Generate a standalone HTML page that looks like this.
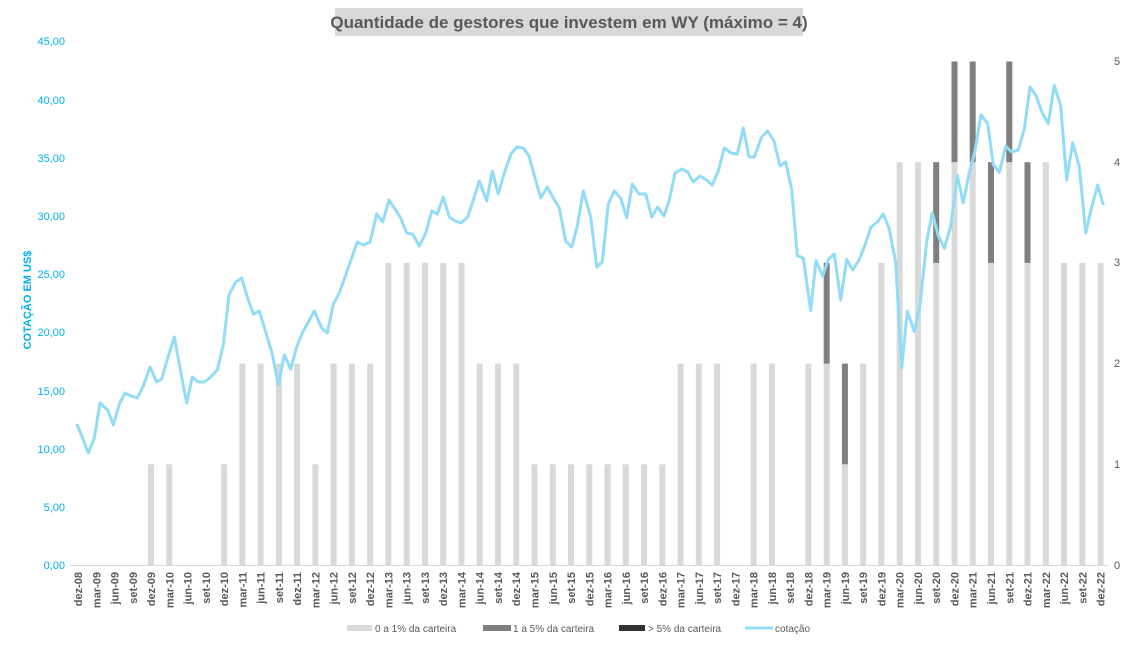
<!DOCTYPE html>
<html><head><meta charset="utf-8"><style>
body{margin:0;background:#fff;width:1138px;height:643px;overflow:hidden}
svg{font-family:"Liberation Sans",sans-serif}
</style></head><body>
<svg width="1138" height="643" viewBox="0 0 1138 643">
<rect x="335" y="8" width="468" height="28" fill="#d9d9d9"/>
<text x="569" y="28" text-anchor="middle" font-size="17" font-weight="bold" fill="#595959">Quantidade de gestores que investem em WY (máximo = 4)</text>
<g font-size="11" fill="#00b0f0" text-anchor="end">
<text x="65" y="569">0,00</text><text x="65" y="511">5,00</text><text x="65" y="453">10,00</text><text x="65" y="395">15,00</text><text x="65" y="336">20,00</text><text x="65" y="278">25,00</text><text x="65" y="220">30,00</text><text x="65" y="162">35,00</text><text x="65" y="104">40,00</text><text x="65" y="45">45,00</text>
</g>
<text transform="translate(31,300) rotate(-90)" text-anchor="middle" font-size="11" font-weight="bold" fill="#00b0f0">COTAÇÃO EM US$</text>
<g font-size="11" fill="#595959">
<text x="1114" y="569">0</text><text x="1114" y="468">1</text><text x="1114" y="367">2</text><text x="1114" y="266">3</text><text x="1114" y="166">4</text><text x="1114" y="65">5</text>
</g>
<g fill="#d9d9d9">
<rect x="148" y="464.3" width="6" height="100.7"/><rect x="166.3" y="464.3" width="6" height="100.7"/><rect x="221.1" y="464.3" width="6" height="100.7"/>
<rect x="239.3" y="363.6" width="6" height="201.4"/><rect x="257.6" y="363.6" width="6" height="201.4"/><rect x="275.9" y="363.6" width="6" height="201.4"/><rect x="294.1" y="363.6" width="6" height="201.4"/>
<rect x="312.4" y="464.3" width="6" height="100.7"/>
<rect x="330.6" y="363.6" width="6" height="201.4"/><rect x="348.9" y="363.6" width="6" height="201.4"/><rect x="367.2" y="363.6" width="6" height="201.4"/>
<rect x="385.4" y="262.9" width="6" height="302.1"/><rect x="403.7" y="262.9" width="6" height="302.1"/><rect x="421.9" y="262.9" width="6" height="302.1"/><rect x="440.2" y="262.9" width="6" height="302.1"/><rect x="458.5" y="262.9" width="6" height="302.1"/>
<rect x="476.7" y="363.6" width="6" height="201.4"/><rect x="495" y="363.6" width="6" height="201.4"/><rect x="513.2" y="363.6" width="6" height="201.4"/>
<rect x="531.5" y="464.3" width="6" height="100.7"/><rect x="549.8" y="464.3" width="6" height="100.7"/><rect x="568" y="464.3" width="6" height="100.7"/><rect x="586.3" y="464.3" width="6" height="100.7"/><rect x="604.5" y="464.3" width="6" height="100.7"/><rect x="622.8" y="464.3" width="6" height="100.7"/><rect x="641.1" y="464.3" width="6" height="100.7"/><rect x="659.3" y="464.3" width="6" height="100.7"/>
<rect x="677.6" y="363.6" width="6" height="201.4"/><rect x="695.8" y="363.6" width="6" height="201.4"/><rect x="714.1" y="363.6" width="6" height="201.4"/>
<rect x="750.6" y="363.6" width="6" height="201.4"/><rect x="768.9" y="363.6" width="6" height="201.4"/>
<rect x="805.4" y="363.6" width="6" height="201.4"/><rect x="823.7" y="363.6" width="6" height="201.4"/>
<rect x="841.9" y="464.3" width="6" height="100.7"/>
<rect x="860.2" y="363.6" width="6" height="201.4"/>
<rect x="878.4" y="262.9" width="6" height="302.1"/>
<rect x="896.7" y="162.2" width="6" height="402.8"/><rect x="915" y="162.2" width="6" height="402.8"/>
<rect x="933.2" y="262.9" width="6" height="302.1"/>
<rect x="951.5" y="162.2" width="6" height="402.8"/><rect x="969.7" y="162.2" width="6" height="402.8"/>
<rect x="988" y="262.9" width="6" height="302.1"/>
<rect x="1006.3" y="162.2" width="6" height="402.8"/>
<rect x="1024.5" y="262.9" width="6" height="302.1"/>
<rect x="1042.8" y="162.2" width="6" height="402.8"/>
<rect x="1061" y="262.9" width="6" height="302.1"/><rect x="1079.3" y="262.9" width="6" height="302.1"/><rect x="1097.6" y="262.9" width="6" height="302.1"/>
</g>
<g fill="#7f7f7f">
<rect x="823.7" y="262.9" width="6" height="100.7"/>
<rect x="841.9" y="363.6" width="6" height="100.7"/>
<rect x="933.2" y="162.2" width="6" height="100.7"/>
<rect x="951.5" y="61.5" width="6" height="100.7"/><rect x="969.7" y="61.5" width="6" height="100.7"/>
<rect x="988" y="162.2" width="6" height="100.7"/>
<rect x="1006.3" y="61.5" width="6" height="100.7"/>
<rect x="1024.5" y="162.2" width="6" height="100.7"/>
</g>
<line x1="70" y1="565.5" x2="1108" y2="565.5" stroke="#d9d9d9" stroke-width="1"/>
<polyline fill="none" stroke="#92dcf7" stroke-width="3" stroke-linejoin="round" points="76.7,424 82.7,438 88.3,453 94.3,438 100,403 107.7,410 113.3,425 119.3,404 125,393 131,396 137.3,398 143.3,386 150,367 156.7,382 161.7,379 167.7,358 174.3,337 180,368 186.7,403 192.3,377 198.3,382 204.3,382 210.7,377 217.3,370 223.3,345 229,295 235.7,282 241.7,278 247.3,297 253.3,314 259.3,311 265.7,332 272.3,354 278.3,385 284.3,355 290.7,369 296.7,347 302.3,333 308.3,322 314.3,311 321.7,328 327.3,333 333.3,304 339.3,293 345,277 351,260 357.3,242 363.3,245 370,242 376.7,214 382.7,222 389,200 395,209 400.7,218 406.7,233 412.7,234 419.3,246 425.7,233 431.7,211 437.3,214 443.3,197 449.3,217 455,221 461,223 467.7,217 473.3,200 479.3,181 486.7,201 492.3,171 498.3,194 504.3,173 511,154 516.7,147 523.3,148 529,156 535,178 540.7,198 547.3,187 553.3,198 559.3,208 565.7,241 571.7,247 577.3,226 583.3,191 590.7,217 596.7,267 602.3,262 608.3,204 614.3,191 620.7,198 626.7,218 632.3,184 639,194 645.7,194 651.7,217 657.7,207 664,216 669.3,200 675,173 681.7,169 687.7,172 693.3,182 700,176 706.7,180 712.3,185 718.3,171 724.3,148 731,153 737.3,154 743.3,128 749,157 754.3,157 761.7,137 767.7,131 774,141 780,166 785.7,162 791.7,189.7 797.3,255.7 803.3,258 810.7,310.5 816,260.6 822.7,276 828.3,259.5 834.3,254 840.7,300 846.7,259.5 852.7,270 859.3,259.5 865,245 871,227 877.3,222 883.3,214 889.3,229 895.7,262.6 901.7,368 907.3,311 914.3,331.6 920,304.8 926.7,241.5 932.3,212.7 938.3,235.7 944.3,248.4 950.7,226 957.3,175.5 963.3,203 969,174 975,151 981,114.8 987.7,123.7 993.3,164.7 999.3,172.4 1005.7,146.3 1011.7,152 1018.3,150 1024.3,129 1030,86.8 1036,95.6 1042.3,113 1048.3,123.7 1054.3,85.3 1060.7,106 1066.7,180 1072.7,142.8 1079.3,166.6 1085.7,233 1091.7,207 1097.7,185 1103.3,205"/>
<g font-size="11" font-weight="bold" fill="#595959" text-anchor="end">
<text transform="translate(82,572) rotate(-90)">dez-08</text><text transform="translate(100.3,572) rotate(-90)">mar-09</text><text transform="translate(118.5,572) rotate(-90)">jun-09</text><text transform="translate(136.8,572) rotate(-90)">set-09</text>
<text transform="translate(155,572) rotate(-90)">dez-09</text><text transform="translate(173.3,572) rotate(-90)">mar-10</text><text transform="translate(191.6,572) rotate(-90)">jun-10</text><text transform="translate(209.8,572) rotate(-90)">set-10</text>
<text transform="translate(228.1,572) rotate(-90)">dez-10</text><text transform="translate(246.3,572) rotate(-90)">mar-11</text><text transform="translate(264.6,572) rotate(-90)">jun-11</text><text transform="translate(282.9,572) rotate(-90)">set-11</text>
<text transform="translate(301.1,572) rotate(-90)">dez-11</text><text transform="translate(319.4,572) rotate(-90)">mar-12</text><text transform="translate(337.6,572) rotate(-90)">jun-12</text><text transform="translate(355.9,572) rotate(-90)">set-12</text>
<text transform="translate(374.2,572) rotate(-90)">dez-12</text><text transform="translate(392.4,572) rotate(-90)">mar-13</text><text transform="translate(410.7,572) rotate(-90)">jun-13</text><text transform="translate(428.9,572) rotate(-90)">set-13</text>
<text transform="translate(447.2,572) rotate(-90)">dez-13</text><text transform="translate(465.5,572) rotate(-90)">mar-14</text><text transform="translate(483.7,572) rotate(-90)">jun-14</text><text transform="translate(502,572) rotate(-90)">set-14</text>
<text transform="translate(520.2,572) rotate(-90)">dez-14</text><text transform="translate(538.5,572) rotate(-90)">mar-15</text><text transform="translate(556.8,572) rotate(-90)">jun-15</text><text transform="translate(575,572) rotate(-90)">set-15</text>
<text transform="translate(593.3,572) rotate(-90)">dez-15</text><text transform="translate(611.5,572) rotate(-90)">mar-16</text><text transform="translate(629.8,572) rotate(-90)">jun-16</text><text transform="translate(648.1,572) rotate(-90)">set-16</text>
<text transform="translate(666.3,572) rotate(-90)">dez-16</text><text transform="translate(684.6,572) rotate(-90)">mar-17</text><text transform="translate(702.8,572) rotate(-90)">jun-17</text><text transform="translate(721.1,572) rotate(-90)">set-17</text>
<text transform="translate(739.4,572) rotate(-90)">dez-17</text><text transform="translate(757.6,572) rotate(-90)">mar-18</text><text transform="translate(775.9,572) rotate(-90)">jun-18</text><text transform="translate(794.1,572) rotate(-90)">set-18</text>
<text transform="translate(812.4,572) rotate(-90)">dez-18</text><text transform="translate(830.7,572) rotate(-90)">mar-19</text><text transform="translate(848.9,572) rotate(-90)">jun-19</text><text transform="translate(867.2,572) rotate(-90)">set-19</text>
<text transform="translate(885.4,572) rotate(-90)">dez-19</text><text transform="translate(903.7,572) rotate(-90)">mar-20</text><text transform="translate(922,572) rotate(-90)">jun-20</text><text transform="translate(940.2,572) rotate(-90)">set-20</text>
<text transform="translate(958.5,572) rotate(-90)">dez-20</text><text transform="translate(976.7,572) rotate(-90)">mar-21</text><text transform="translate(995,572) rotate(-90)">jun-21</text><text transform="translate(1013.3,572) rotate(-90)">set-21</text>
<text transform="translate(1031.5,572) rotate(-90)">dez-21</text><text transform="translate(1049.8,572) rotate(-90)">mar-22</text><text transform="translate(1068,572) rotate(-90)">jun-22</text><text transform="translate(1086.3,572) rotate(-90)">set-22</text>
<text transform="translate(1104.6,572) rotate(-90)">dez-22</text>
</g>
<g font-size="10" fill="#595959">
<rect x="347" y="625" width="25" height="6" fill="#d9d9d9"/><text x="375" y="632">0 a 1% da carteira</text>
<rect x="483" y="625" width="28" height="6" fill="#7f7f7f"/><text x="513" y="632">1 a 5% da carteira</text>
<rect x="619" y="625" width="26" height="6" fill="#333"/><text x="648" y="632">&gt; 5% da carteira</text>
<line x1="745" y1="628" x2="773" y2="628" stroke="#92dcf7" stroke-width="3"/><text x="775" y="632">cotação</text>
</g>
</svg>
</body></html>
